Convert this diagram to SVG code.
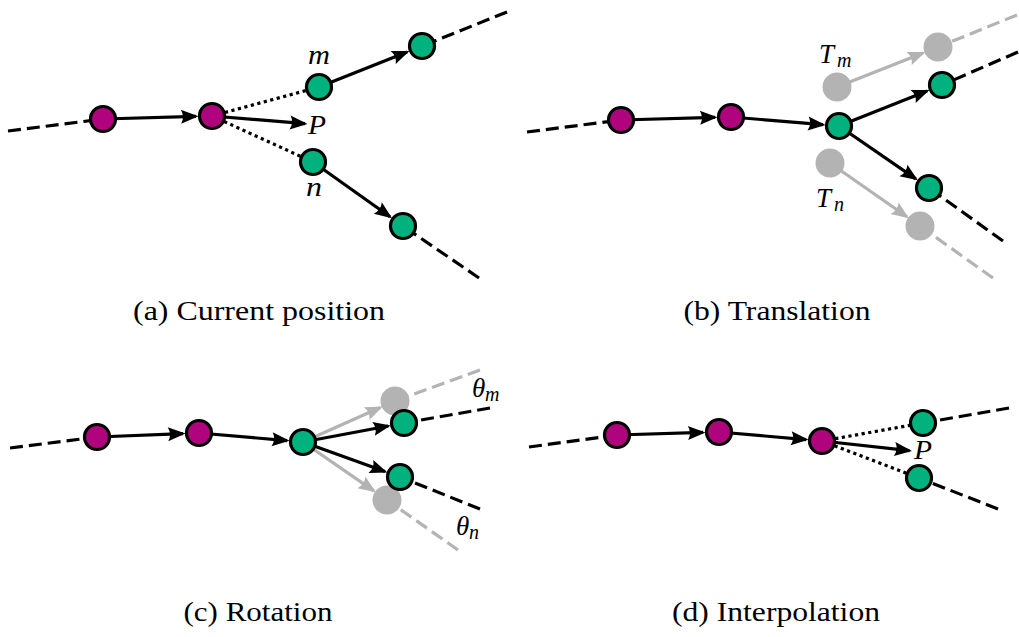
<svg xmlns="http://www.w3.org/2000/svg" width="1019" height="637" viewBox="0 0 1019 637">
<defs>
<marker id="ah" viewBox="-18 -9 22 18" markerWidth="22" markerHeight="18" refX="0" refY="0" orient="auto" markerUnits="userSpaceOnUse">
<path d="M2.5,0 L-15,-7 Q-11,0 -15,7 Z" fill="#000"/>
</marker>
<marker id="ahg" viewBox="-18 -9 22 18" markerWidth="22" markerHeight="18" refX="0" refY="0" orient="auto" markerUnits="userSpaceOnUse">
<path d="M2.5,0 L-15,-7 Q-11,0 -15,7 Z" fill="#b3b3b3"/>
</marker>
</defs>
<style>
.ln{stroke:#000;stroke-width:3.2;fill:none}
.gl{stroke:#b3b3b3;stroke-width:3.2;fill:none}
.ds{stroke-dasharray:13 6}
.dt{stroke-dasharray:3.2 3.5}
.ar{marker-end:url(#ah)}
.arg{marker-end:url(#ahg)}
.mg{fill:#b0037e;stroke:#000;stroke-width:3.2}
.gr{fill:#02b27e;stroke:#000;stroke-width:3.2}
.gy{fill:#b3b3b3}
.cap{font-family:"Liberation Serif",serif;font-size:28px;fill:#000;text-anchor:middle}
.mt{font-family:"Liberation Serif",serif;font-style:italic;font-size:27px;fill:#000}
.sb{font-size:20px}
</style>
<rect width="1019" height="637" fill="#fff"/>
<g id="connectors">
<!-- panel a -->
<line class="ln ds" x1="8" y1="131" x2="103" y2="119"/>
<line class="ln ar" x1="103" y1="119" x2="196" y2="116.44"/>
<line class="ln ar" x1="212" y1="116" x2="305" y2="123.7"/>
<line class="ln dt" x1="212" y1="116" x2="319" y2="87"/>
<line class="ln dt" x1="212" y1="116" x2="313" y2="162"/>
<line class="ln ar" x1="319" y1="87" x2="407.1" y2="51.9"/>
<line class="ln ar" x1="313" y1="162" x2="390" y2="216.7"/>
<line class="ln ds" x1="507" y1="12" x2="422" y2="46"/>
<line class="ln ds" x1="479" y1="278" x2="403" y2="226"/>
<!-- panel b -->
<line class="gl ds" x1="1017" y1="15" x2="938" y2="47"/>
<line class="gl ds" x1="993" y1="278" x2="920" y2="226"/>
<line class="gl arg" x1="837" y1="87" x2="923.1" y2="52.9"/>
<line class="gl arg" x1="830" y1="163" x2="906.9" y2="216.8"/>
<line class="ln ds" x1="527" y1="132" x2="621" y2="120"/>
<line class="ln ar" x1="621" y1="120" x2="715" y2="117.44"/>
<line class="ln ar" x1="731" y1="117" x2="823.05" y2="124.67"/>
<line class="ln ar" x1="839" y1="126" x2="927.1" y2="90.9"/>
<line class="ln ar" x1="839" y1="126" x2="915.8" y2="178.9"/>
<line class="ln ds" x1="1018" y1="52" x2="942" y2="85"/>
<line class="ln ds" x1="1003" y1="241" x2="929" y2="188"/>
<!-- panel c -->
<line class="gl ds" x1="480" y1="370" x2="395" y2="401"/>
<line class="gl ds" x1="458" y1="550" x2="387" y2="500"/>
<line class="gl arg" x1="303" y1="442" x2="380.4" y2="407.5"/>
<line class="gl arg" x1="303" y1="442" x2="373.8" y2="490.9"/>
<line class="ln ds" x1="10" y1="448" x2="97" y2="437"/>
<line class="ln ar" x1="97" y1="437" x2="183" y2="433.6"/>
<line class="ln ar" x1="199" y1="433" x2="287.06" y2="440.62"/>
<line class="ln ar" x1="303" y1="442" x2="388.3" y2="426"/>
<line class="ln ar" x1="303" y1="442" x2="385" y2="471.6"/>
<line class="ln ds" x1="490" y1="408" x2="404" y2="423"/>
<line class="ln ds" x1="480" y1="509" x2="400" y2="477"/>
<!-- panel d -->
<line class="ln ds" x1="529" y1="447" x2="617" y2="435"/>
<line class="ln ar" x1="617" y1="435" x2="703" y2="432.47"/>
<line class="ln ar" x1="719" y1="432" x2="806.06" y2="439.6"/>
<line class="ln ar" x1="822" y1="441" x2="909.5" y2="450.7"/>
<line class="ln dt" x1="822" y1="441" x2="923" y2="423"/>
<line class="ln dt" x1="822" y1="441" x2="919" y2="478"/>
<line class="ln ds" x1="1009" y1="408" x2="923" y2="423"/>
<line class="ln ds" x1="998" y1="509" x2="919" y2="478"/>
</g>
<!-- panel a nodes -->
<g id="a1"><circle class="mg" cx="103" cy="119" r="12.5"/></g>
<g id="a2"><circle class="mg" cx="212" cy="116" r="12.5"/></g>
<g id="am"><circle class="gr" cx="319" cy="87" r="12.5"/></g>
<g id="am2"><circle class="gr" cx="422" cy="46" r="12.5"/></g>
<g id="an"><circle class="gr" cx="313" cy="162" r="12.5"/></g>
<g id="an2"><circle class="gr" cx="403" cy="226" r="12.5"/></g>
<!-- panel b nodes -->
<g id="bgm"><circle class="gy" cx="837" cy="87" r="14.5"/></g>
<g id="bgm2"><circle class="gy" cx="938" cy="47" r="14.5"/></g>
<g id="bgn"><circle class="gy" cx="830" cy="163" r="14.5"/></g>
<g id="bgn2"><circle class="gy" cx="920" cy="226" r="14.5"/></g>
<g id="b1"><circle class="mg" cx="621" cy="120" r="12.5"/></g>
<g id="b2"><circle class="mg" cx="731" cy="117" r="12.5"/></g>
<g id="bc"><circle class="gr" cx="839" cy="126" r="12.5"/></g>
<g id="bm"><circle class="gr" cx="942" cy="85" r="12.5"/></g>
<g id="bn"><circle class="gr" cx="929" cy="188" r="12.5"/></g>
<!-- panel c nodes -->
<g id="cgt"><circle class="gy" cx="395" cy="401" r="14.5"/></g>
<g id="cgb"><circle class="gy" cx="387" cy="500" r="14.5"/></g>
<g id="c1"><circle class="mg" cx="97" cy="437" r="12.5"/></g>
<g id="c2"><circle class="mg" cx="199" cy="433" r="12.5"/></g>
<g id="cc"><circle class="gr" cx="303" cy="442" r="12.5"/></g>
<g id="cm"><circle class="gr" cx="404" cy="423" r="12.5"/></g>
<g id="cn"><circle class="gr" cx="400" cy="477" r="12.5"/></g>
<!-- panel d nodes -->
<g id="d1"><circle class="mg" cx="617" cy="435" r="12.5"/></g>
<g id="d2"><circle class="mg" cx="719" cy="432" r="12.5"/></g>
<g id="d3"><circle class="mg" cx="822" cy="441" r="12.5"/></g>
<g id="dm"><circle class="gr" cx="923" cy="423" r="12.5"/></g>
<g id="dn"><circle class="gr" cx="919" cy="478" r="12.5"/></g>
<g id="labels">
<text class="mt" x="308" y="64" textLength="22" lengthAdjust="spacingAndGlyphs">m</text>
<text class="mt" x="308" y="134" textLength="18" lengthAdjust="spacingAndGlyphs">P</text>
<text class="mt" x="306" y="196" textLength="16" lengthAdjust="spacingAndGlyphs">n</text>
<text class="mt" x="819" y="63">T<tspan class="sb" x="837" y="67">m</tspan></text>
<text class="mt" x="816" y="207">T<tspan class="sb" x="834" y="211">n</tspan></text>
<text class="mt" x="472" y="397">θ<tspan class="sb" x="485" y="401">m</tspan></text>
<text class="mt" x="456" y="535">θ<tspan class="sb" x="469" y="539">n</tspan></text>
<text class="mt" x="914" y="459" textLength="18" lengthAdjust="spacingAndGlyphs">P</text>
</g>
<g id="captions">
<text class="cap" x="259" y="320" textLength="252" lengthAdjust="spacingAndGlyphs">(a) Current position</text>
<text class="cap" x="777" y="320" textLength="187" lengthAdjust="spacingAndGlyphs">(b) Translation</text>
<text class="cap" x="258" y="621" textLength="149" lengthAdjust="spacingAndGlyphs">(c) Rotation</text>
<text class="cap" x="776" y="621" textLength="208" lengthAdjust="spacingAndGlyphs">(d) Interpolation</text>
</g>
</svg>
